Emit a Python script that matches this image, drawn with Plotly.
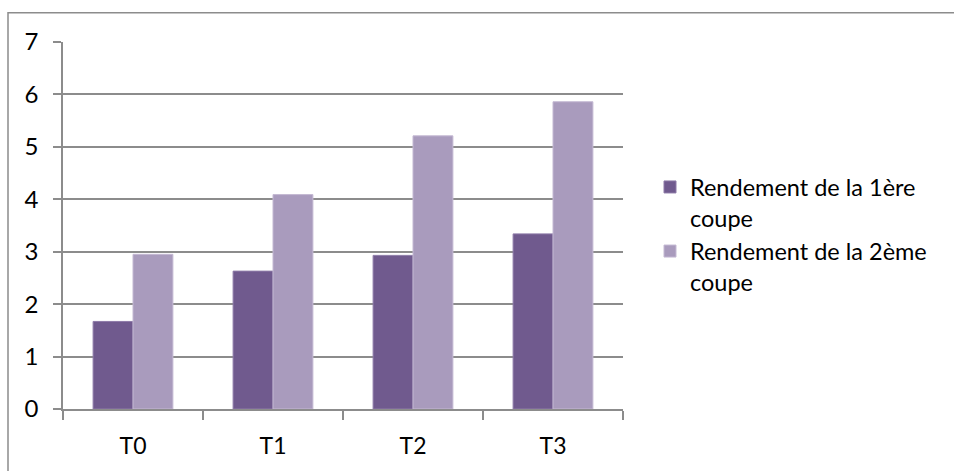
import plotly.graph_objects as go

categories = ["T0", "T1", "T2", "T3"]
coupe1 = [1.67, 2.63, 2.93, 3.34]
coupe2 = [2.95, 4.09, 5.21, 5.86]
series_names = ["Rendement de la 1ère<br>coupe", "Rendement de la 2ème<br>coupe"]
y_ticks = [0, 1, 2, 3, 4, 5, 6, 7]

W, H = 954, 471
ML, MR, MT, MB = 63, 331, 42, 60
FONT = "Lato, Calibri, Carlito, sans-serif"

fig = go.Figure()
fig.add_trace(go.Bar(
    x=categories, y=coupe1, name=series_names[0], legendgroup="a",
    marker=dict(color="#705A8E", line=dict(color="#8E7BA8", width=1)),
))
fig.add_trace(go.Bar(
    x=categories, y=coupe2, name=series_names[1], legendgroup="b",
    marker=dict(color="#A99BBD", line=dict(color="#C4B9D3", width=1)),
))

pw = W - ML - MR
ph = H - MT - MB
# outer chart frame (left and top edges visible)
fig.add_shape(type="rect", xref="paper", yref="paper",
              x0=(8 - ML) / pw, x1=(W + 20 - ML) / pw,
              y0=(H - MB - (H + 20)) / ph, y1=(H - MB - 12.5) / ph,
              line=dict(color="#8C8C8C", width=1.5), fillcolor="rgba(0,0,0,0)",
              layer="below")

fig.update_layout(
    width=W, height=H,
    margin=dict(l=ML, r=MR, t=MT, b=MB),
    paper_bgcolor="white", plot_bgcolor="white",
    barmode="group", bargap=0.43, bargroupgap=0,
    font=dict(family=FONT, size=24, color="#000000"),
    legend=dict(x=(650 - ML) / pw, y=0.475, xanchor="left", yanchor="middle",
                font=dict(size=23.5), tracegroupgap=0, itemwidth=30,
                valign="top", bgcolor="rgba(0,0,0,0)"),
    xaxis=dict(type="category", showgrid=False, showline=True,
               linecolor="#8C8C8C", linewidth=1.5, ticks="outside",
               tickson="boundaries", ticklen=9, tickcolor="#8C8C8C",
               tickwidth=1.5, tickfont=dict(size=23), ticklabelstandoff=16),
    yaxis=dict(range=[0, 7], tickvals=y_ticks, showgrid=True,
               gridcolor="#8C8C8C", gridwidth=1.5, showline=True,
               linecolor="#8C8C8C", linewidth=1.5, ticks="outside",
               ticklen=8, tickcolor="#8C8C8C", tickwidth=1.5,
               tickfont=dict(size=24), ticklabelstandoff=10, zeroline=False),
)

fig.write_html("out.html")
